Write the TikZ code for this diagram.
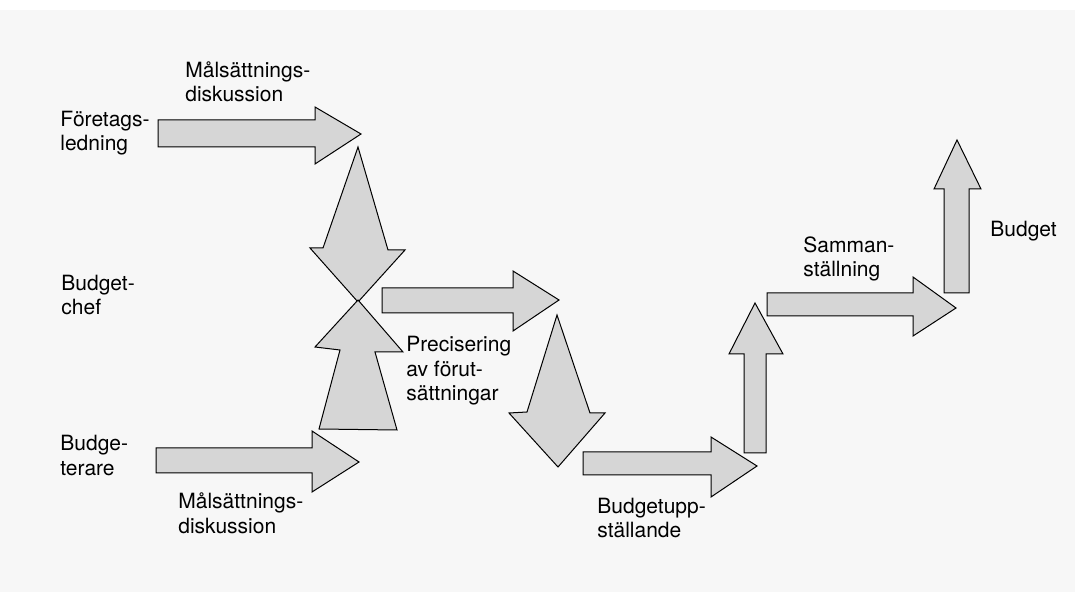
\documentclass[tikz,border=0pt]{standalone}
\usepackage{fontspec}
\setmainfont{TeX Gyre Heros}
\tikzset{
  blockarrow/.style={draw=black, fill=gray!32, line width=.5pt, line join=miter},
  lbl/.style={align=left, anchor=base west, inner sep=0pt, font=\fontsize{10.5pt}{12.3pt}\selectfont}
}
\begin{document}
\begin{tikzpicture}[x=.5pt, y=-.5pt]
			\useasboundingbox (0, 0) rectangle (1075, 592);
			\fill[gray!6] (0, 10) rectangle (1075, 592);
			\draw[blockarrow] (158, 120) -- (315, 120) -- (315, 107) -- (361, 134) -- (315, 164) -- (315, 147) -- (158, 147) -- cycle;
			\draw[blockarrow] (358, 147) -- (388, 250) -- (405, 250) -- (358, 302) -- (310, 248) -- (323, 248) -- cycle;
			\draw[blockarrow] (358, 300) -- (403, 352) -- (375, 352) -- (397, 430) -- (319, 429) -- (340, 350) -- (315, 347) -- cycle;
			\draw[blockarrow] (156, 448) -- (312, 448) -- (312, 431) -- (359, 462) -- (312, 492) -- (312, 473) -- (156, 473) -- cycle;
			\draw[blockarrow] (382, 288) -- (513, 288) -- (513, 271) -- (559, 300) -- (513, 331) -- (513, 313) -- (382, 313) -- cycle;
			\draw[blockarrow] (557, 315) -- (590, 413) -- (605, 413) -- (558, 467) -- (509, 413) -- (527, 412) -- cycle;
			\draw[blockarrow] (583, 452) -- (711, 452) -- (711, 437) -- (757, 466) -- (711, 497) -- (711, 475) -- (583, 475) -- cycle;
			\draw[blockarrow] (744, 453) -- (744, 354) -- (729, 354) -- (755, 303) -- (783, 354) -- (766, 354) -- (766, 453) -- cycle;
			\draw[blockarrow] (767, 293) -- (913, 293) -- (913, 277) -- (956, 308) -- (913, 336) -- (913, 316) -- (767, 316) -- cycle;
			\draw[blockarrow] (944, 293) -- (944, 189) -- (934, 189) -- (957, 140) -- (981, 189) -- (969, 189) -- (969, 293) -- cycle;
			\node[lbl] (maltop) at (185, 102) {Målsättnings-\\diskussion};
			\node[lbl] (foretag) at (60, 151) {Företags-\\ledning};
			\node[lbl] (chef) at (61, 315) {Budget-\\chef};
			\node[lbl] (budgeterare) at (60, 475) {Budge-\\terare};
			\node[lbl] (malbot) at (178, 533) {Målsättnings-\\diskussion};
			\node[lbl] (precis) at (406, 401) {Precisering\\av förut-\\sättningar};
			\node[lbl] (uppst) at (597, 538) {Budgetupp-\\ställande};
			\node[lbl] (samman) at (803, 277) {Samman-\\ställning};
			\node[lbl] (budget) at (990, 237) {Budget};
\end{tikzpicture}
\end{document}
